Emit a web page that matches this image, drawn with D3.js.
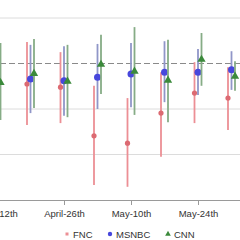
<!DOCTYPE html>
<html>
<head>
<meta charset="utf-8">
<script src="https://cdn.jsdelivr.net/npm/d3@7"></script>
<style>
  html, body { margin: 0; padding: 0; background: #fff; }
  svg { display: block; }
</style>
</head>
<body>
<script>
var width = 240,
    height = 240;

// weekly groups
var weeks = ["2020-04-12", "2020-04-19", "2020-04-26", "2020-05-03",
             "2020-05-10", "2020-05-17", "2020-05-24", "2020-05-31"];

// estimate, lower, upper per network (null = outside the crop)
var fncEst   = [null, -0.45, -0.52, -1.59, -1.75, -1.09, -0.65, -0.76];
var fncLo    = [null, -1.35, -1.31, -2.67, -2.71, -2.05, -1.31, -1.46];
var fncHi    = [null,  0.47,  0.25, -0.49, -0.76, -0.19,  0.03, -0.08];

var msnbcEst = [null, -0.34, -0.38, -0.30, -0.23, -0.19, -0.19, -0.14];
var msnbcLo  = [null, -1.09, -1.15, -1.00, -0.96, -0.85, -0.69, -0.58];
var msnbcHi  = [null,  0.41,  0.38,  0.43,  0.45,  0.49,  0.32,  0.27];

var cnnEst   = [-0.41, -0.21, -0.38, -0.01, -0.16, -0.36,  0.10, -0.27];
var cnnLo    = [-1.24, -0.98, -1.18, -0.67, -1.13, -1.29, -0.49, -0.60];
var cnnHi    = [ 0.45,  0.54,  0.41,  0.63,  0.80,  0.52,  0.67,  0.05];

var tickDates  = ["2020-04-12", "2020-04-26", "2020-05-10", "2020-05-24"];
var tickLabels = ["April-12th", "April-26th", "May-10th", "May-24th"];
var gridValues = [1, -1, -2];

var parse = d3.timeParse("%Y-%m-%d");

var series = [
  { name: "FNC",   est: fncEst,   lo: fncLo,   hi: fncHi,   off: -3.5, line: "#ec8f95", mark: "#dc6a72", shape: "square" },
  { name: "MSNBC", est: msnbcEst, lo: msnbcLo, hi: msnbcHi, off: 0,    line: "#9096c8", mark: "#4747dc", shape: "circle" },
  { name: "CNN",   est: cnnEst,   lo: cnnLo,   hi: cnnHi,   off: 3.5,  line: "#86ac86", mark: "#3b8a3b", shape: "triangle" }
];

var x = d3.scaleTime()
    .domain([parse("2020-04-12"), parse("2020-05-24")])
    .range([-3, 198]);

var y = d3.scaleLinear()
    .domain([-3, 1])
    .range([200, 18]);

var svg = d3.select("body").append("svg")
    .attr("width", width)
    .attr("height", height)
    .style("font-family", "'Liberation Sans', Arial, sans-serif");

// grid
svg.selectAll(".grid")
    .data(gridValues)
    .enter().append("line")
    .attr("x1", 0).attr("x2", width)
    .attr("y1", function(d) { return y(d); })
    .attr("y2", function(d) { return y(d); })
    .attr("stroke", "#dcdcdc")
    .attr("stroke-width", 1);

svg.append("line")
    .attr("x1", 0).attr("x2", width)
    .attr("y1", y(0)).attr("y2", y(0))
    .attr("stroke", "#8a8a8a")
    .attr("stroke-width", 1)
    .attr("stroke-dasharray", "6,3");

// x axis
var axis = svg.append("g")
    .attr("transform", "translate(0," + y(-3) + ")")
    .call(d3.axisBottom(x)
        .tickValues(tickDates.map(parse))
        .tickFormat(function(d, i) { return tickLabels[i]; })
        .tickSize(5)
        .tickPadding(5.5));
axis.select(".domain").attr("stroke", "#9a9a9a").attr("d", "M0,0.5H" + width);
axis.selectAll(".tick line").attr("stroke", "#9a9a9a");
axis.selectAll(".tick text")
    .attr("fill", "#333")
    .style("font-size", "9.5px");

// error bars and markers
var tri = d3.symbol().type(d3.symbolTriangle).size(30);

series.forEach(function(s) {
  var rows = weeks.map(function(w, i) {
    return { date: parse(w), est: s.est[i], lo: s.lo[i], hi: s.hi[i] };
  }).filter(function(d) { return d.est !== null; });

  var g = svg.append("g");

  g.selectAll("line")
      .data(rows)
      .enter().append("line")
      .attr("x1", function(d) { return x(d.date) + s.off; })
      .attr("x2", function(d) { return x(d.date) + s.off; })
      .attr("y1", function(d) { return y(d.lo); })
      .attr("y2", function(d) { return y(d.hi); })
      .attr("stroke", s.line)
      .attr("stroke-width", 1.8);

  if (s.shape === "circle") {
    g.selectAll("circle")
        .data(rows)
        .enter().append("circle")
        .attr("cx", function(d) { return x(d.date) + s.off; })
        .attr("cy", function(d) { return y(d.est); })
        .attr("r", 3.5)
        .attr("fill", s.mark);
  } else if (s.shape === "square") {
    g.selectAll("circle")
        .data(rows)
        .enter().append("circle")
        .attr("cx", function(d) { return x(d.date) + s.off; })
        .attr("cy", function(d) { return y(d.est); })
        .attr("r", 2.6)
        .attr("fill", s.mark);
  } else {
    g.selectAll("path")
        .data(rows)
        .enter().append("path")
        .attr("d", tri)
        .attr("transform", function(d) {
          return "translate(" + (x(d.date) + s.off) + "," + (y(d.est) + 0.5) + ")";
        })
        .attr("fill", s.mark);
  }
});

// legend
var legendX = [67, 110, 168];
var legend = svg.selectAll(".legend")
    .data(series)
    .enter().append("g")
    .attr("transform", function(d, i) { return "translate(" + legendX[i] + ",234)"; });

legend.each(function(s) {
  var l = d3.select(this);
  if (s.shape === "triangle") {
    l.append("path").attr("d", d3.symbol().type(d3.symbolTriangle).size(14)).attr("fill", s.mark);
  } else if (s.shape === "square") {
    l.append("rect").attr("x", -1.5).attr("y", -1.5).attr("width", 3).attr("height", 3).attr("fill", s.line);
  } else {
    l.append("circle").attr("r", 2.2).attr("fill", s.mark);
  }
  l.append("text")
      .attr("x", 6)
      .attr("y", 3.5)
      .attr("fill", "#333")
      .style("font-size", "9.5px")
      .text(s.name);
});
</script>
</body>
</html>
